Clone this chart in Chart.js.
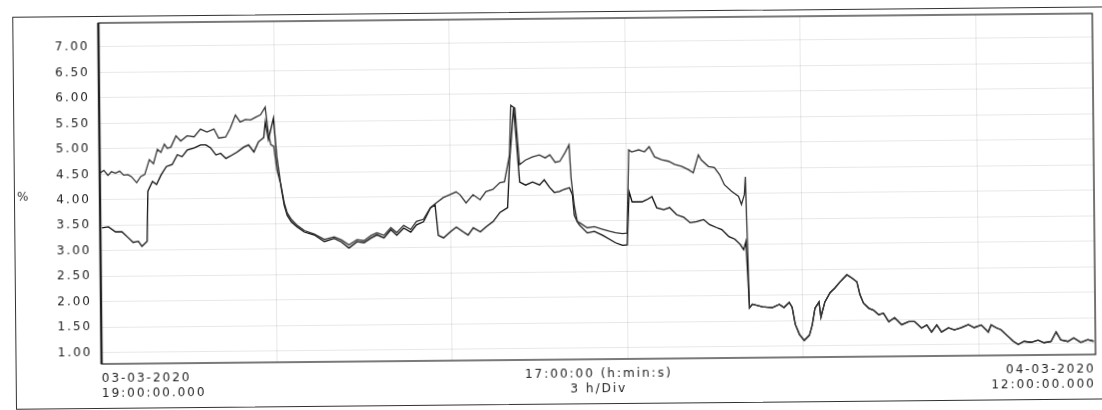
<!DOCTYPE html>
<html>
<head>
<meta charset="utf-8">
<script src="https://cdn.jsdelivr.net/npm/chart.js@4.4.1/dist/chart.umd.min.js"></script>
<style>
html, body { margin: 0; padding: 0; background: #fff; overflow: hidden; }
#sheet { position: absolute; left: 0; top: 0; width: 1102px; height: 410px; transform: rotate(-0.55deg); transform-origin: 100px 200px; }
#frame { position: absolute; left: 14px; top: 16px; width: 1110px; height: 391px; border: 1.5px solid #333; }
canvas { position: absolute; left: 0; top: 0; }
</style>
</head>
<body>
<div id="sheet">
  <div id="frame"></div>
  <canvas id="myChart" width="1102" height="410"></canvas>
</div>
<script>
// hours since 03-03-2020 19:00, values in %
var timesA = [0, 0.07, 0.14, 0.2, 0.27, 0.34, 0.41, 0.48, 0.54, 0.63, 0.70, 0.77, 0.85, 0.92, 0.99, 1.05, 1.11, 1.16, 1.22, 1.31, 1.39, 1.50, 1.62, 1.73, 1.84, 1.96,
  2.04, 2.16, 2.24, 2.33, 2.41, 2.50, 2.59, 2.67, 2.76, 2.84, 2.89, 2.93, 2.98,
  3.03, 3.10, 3.15, 3.20, 3.27, 3.37, 3.49, 3.66, 3.83,
  4.00, 4.12, 4.25, 4.39, 4.51, 4.63, 4.73, 4.85, 4.97,
  5.07, 5.19, 5.31, 5.41, 5.53, 5.65, 5.73, 5.87, 5.99,
  6.09, 6.16, 6.26, 6.38, 6.50, 6.60, 6.72, 6.84, 6.92,
  7.01, 7.04, 7.11, 7.18, 7.28, 7.40, 7.52, 7.62, 7.70, 7.79, 7.87, 7.96,
  8.03, 8.06, 8.11, 8.16, 8.20, 8.33, 8.45, 8.59, 8.71, 8.81, 8.93,
  9.01, 9.05, 9.10, 9.22, 9.32, 9.40, 9.49, 9.61, 9.73, 9.83, 9.95,
  10.07, 10.15, 10.24, 10.29, 10.41, 10.51, 10.60, 10.68, 10.80, 10.92, 10.97,
  11.02, 11.04];
var valsA = [4.52, 4.58, 4.48, 4.55, 4.52, 4.56, 4.48, 4.49, 4.45, 4.33, 4.45, 4.49, 4.78, 4.70, 4.98, 4.92, 5.08, 5.00, 5.02, 5.24, 5.14, 5.24, 5.22, 5.37, 5.31, 5.37,
  5.19, 5.21, 5.38, 5.64, 5.50, 5.55, 5.54, 5.59, 5.64, 5.79, 5.27, 5.05, 5.02,
  4.56, 4.24, 3.91, 3.71, 3.58, 3.46, 3.36, 3.29, 3.18,
  3.23, 3.17, 3.07, 3.17, 3.15, 3.25, 3.30, 3.25, 3.40,
  3.30, 3.44, 3.36, 3.52, 3.56, 3.79, 3.86, 3.98, 4.04,
  4.09, 4.03, 3.87, 4.03, 3.93, 4.09, 4.13, 4.26, 4.28,
  4.80, 5.78, 5.72, 4.61, 4.70, 4.76, 4.80, 4.74, 4.80, 4.65, 4.67, 4.84,
  4.99, 4.34, 3.81, 3.48, 3.46, 3.36, 3.38, 3.33, 3.29, 3.26, 3.24,
  3.25, 4.88, 4.84, 4.88, 4.84, 4.94, 4.74, 4.68, 4.65, 4.59, 4.55,
  4.48, 4.42, 4.77, 4.67, 4.54, 4.52, 4.38, 4.18, 4.05, 3.95, 3.79,
  3.98, 4.33];

var timesB = [0.03, 0.14, 0.26, 0.37, 0.48, 0.56, 0.65, 0.71, 0.80, 0.82, 0.90, 0.97, 1.05, 1.14, 1.24, 1.33, 1.41, 1.50, 1.62, 1.73, 1.82, 1.90, 1.99,
  2.07, 2.16, 2.26, 2.35, 2.47, 2.55, 2.64, 2.72, 2.81, 2.84, 2.89, 2.98,
  3.03, 3.10, 3.15, 3.20, 3.27, 3.37, 3.49, 3.66, 3.83,
  4.00, 4.12, 4.25, 4.39, 4.51, 4.63, 4.73, 4.85, 4.97,
  5.07, 5.19, 5.31, 5.41, 5.53, 5.65, 5.73, 5.78, 5.87, 5.99,
  6.09, 6.21, 6.29, 6.38, 6.50, 6.60, 6.72, 6.84, 6.97,
  7.01, 7.09, 7.18, 7.28, 7.40, 7.52, 7.60, 7.69, 7.77, 7.86, 7.94,
  8.03, 8.08, 8.11, 8.16, 8.20, 8.33, 8.45, 8.59, 8.71, 8.81, 8.93,
  9.01, 9.05, 9.10, 9.15, 9.27, 9.35, 9.44, 9.52, 9.64, 9.74, 9.86, 9.98,
  10.09, 10.20, 10.32, 10.42, 10.54, 10.63, 10.75, 10.85, 10.94,
  11.00, 11.04];
var valsB = [3.45, 3.47, 3.37, 3.37, 3.25, 3.16, 3.18, 3.08, 3.18, 4.16, 4.35, 4.29, 4.48, 4.64, 4.68, 4.87, 4.83, 4.96, 5.00, 5.06, 5.06, 5.00, 4.86,
  4.89, 4.79, 4.85, 4.91, 5.01, 5.05, 4.91, 5.11, 5.19, 5.50, 5.15, 5.57,
  4.81, 4.20, 3.86, 3.66, 3.53, 3.43, 3.33, 3.27, 3.14,
  3.20, 3.13, 3.01, 3.13, 3.11, 3.20, 3.26, 3.20, 3.36,
  3.25, 3.39, 3.31, 3.45, 3.51, 3.78, 3.84, 3.24, 3.19, 3.31,
  3.40, 3.30, 3.24, 3.38, 3.30, 3.40, 3.50, 3.68, 3.77,
  4.67, 5.74, 4.27, 4.21, 4.27, 4.21, 4.31, 4.16, 4.06, 4.08, 4.12,
  4.15, 4.01, 3.61, 3.48, 3.41, 3.26, 3.29, 3.21, 3.13, 3.06, 3.01,
  3.02, 4.06, 3.86, 3.86, 3.86, 3.90, 3.96, 3.74, 3.70, 3.74, 3.60, 3.55,
  3.44, 3.46, 3.50, 3.40, 3.34, 3.30, 3.16, 3.11, 3.01,
  2.90, 3.06];

// after 11 h both traces run together
var tailTimes = [11.09, 11.14, 11.31, 11.48, 11.60, 11.68, 11.77, 11.82, 11.87, 11.94,
  12.02, 12.11, 12.16, 12.21, 12.28, 12.31, 12.38, 12.47, 12.55, 12.64, 12.76, 12.84, 12.93, 12.98,
  13.04, 13.13, 13.21, 13.30, 13.38, 13.47, 13.57, 13.69, 13.81, 13.91,
  14.03, 14.12, 14.20, 14.29, 14.37, 14.49, 14.59, 14.71, 14.83, 14.93,
  15.05, 15.17, 15.22, 15.31, 15.39, 15.48, 15.60, 15.68, 15.78, 15.90,
  16.02, 16.12, 16.24, 16.33, 16.41, 16.53, 16.63, 16.75, 16.87, 16.97];
var tailVals = [1.76, 1.83, 1.78, 1.76, 1.82, 1.76, 1.86, 1.76, 1.43, 1.23,
  1.11, 1.21, 1.41, 1.74, 1.86, 1.56, 1.86, 2.04, 2.13, 2.25, 2.39, 2.33, 2.25, 2.00,
  1.83, 1.73, 1.69, 1.60, 1.63, 1.46, 1.54, 1.40, 1.46, 1.46,
  1.33, 1.39, 1.25, 1.39, 1.25, 1.33, 1.29, 1.33, 1.39, 1.33,
  1.38, 1.24, 1.38, 1.32, 1.28, 1.18, 1.05, 0.99, 1.05, 1.03,
  1.07, 1.02, 1.04, 1.23, 1.07, 1.04, 1.11, 1.02, 1.07, 1.04];

var yTicks = [1, 1.5, 2, 2.5, 3, 3.5, 4, 4.5, 5, 5.5, 6, 6.5, 7];
var xGridTicks = [0, 3, 6, 9, 12, 15, 17];
var xLabelTicks = [0, 8.5, 17];
var xLabels = [['03-03-2020', '19:00:00.000'], ['17:00:00 (h:min:s)', '3 h/Div'], ['04-03-2020', '12:00:00.000']];

function toPoints(ts, vs) {
    return ts.map(function (t, i) { return { x: t, y: vs[i] }; });
}

var dataA = toPoints(timesA, valsA).concat(toPoints(tailTimes, tailVals));
var dataB = toPoints(timesB, valsB).concat(toPoints(tailTimes, tailVals));

var paperBits = {
    id: 'paperBits',
    beforeUpdate: function (chart) {
        chart.ctx.letterSpacing = '2px';
    },
    afterDraw: function (chart) {
        var a = chart.chartArea, ctx = chart.ctx;
        ctx.save();
        ctx.strokeStyle = '#222';
        ctx.lineWidth = 1.2;
        ctx.strokeRect(a.left, a.top, a.right - a.left, a.bottom - a.top);
        ctx.lineWidth = 2.4;
        ctx.beginPath();
        ctx.moveTo(a.left, a.top);
        ctx.lineTo(a.left, a.bottom);
        ctx.stroke();
        ctx.fillStyle = '#333';
        ctx.font = '12px "DejaVu Sans"';
        ctx.textBaseline = 'middle';
        ctx.fillText('%', 17, 197);
        ctx.restore();
    }
};

var labelFont = { family: '"DejaVu Sans", sans-serif', size: 12, lineHeight: 1.2 };

var ctx = document.getElementById('myChart').getContext('2d');
var myChart = new Chart(ctx, {
    type: 'line',
    data: {
        datasets: [{
            label: 'A',
            data: dataA,
            borderColor: '#333',
            borderWidth: 1.3,
            pointRadius: 0,
            tension: 0
        }, {
            label: 'B',
            data: dataB,
            borderColor: '#111',
            borderWidth: 1.3,
            pointRadius: 0,
            tension: 0
        }]
    },
    options: {
        responsive: false,
        animation: false,
        events: [],
        layout: { padding: { top: 23, right: 3, left: 0, bottom: 0 } },
        plugins: { legend: { display: false }, tooltip: { enabled: false } },
        scales: {
            x: {
                type: 'linear',
                min: 0,
                max: 17,
                afterBuildTicks: function (s) { s.ticks = xGridTicks.map(function (v) { return { value: v }; }); },
                afterFit: function (s) { s.height = 0; },
                grid: { color: 'rgba(0,0,0,0.09)', drawTicks: false },
                border: { display: false },
                ticks: { display: false }
            },
            x2: {
                type: 'linear',
                position: 'bottom',
                min: 0,
                max: 17,
                afterBuildTicks: function (s) { s.ticks = xLabelTicks.map(function (v) { return { value: v }; }); },
                afterFit: function (s) { s.height = 46; },
                grid: { display: false, drawTicks: false },
                border: { display: false },
                ticks: {
                    align: 'inner',
                    maxRotation: 0,
                    padding: 8,
                    color: '#222',
                    font: labelFont,
                    callback: function (v, i) { return xLabels[i]; }
                }
            },
            y: {
                min: 0.78,
                max: 7.47,
                afterBuildTicks: function (s) { s.ticks = yTicks.map(function (v) { return { value: v }; }); },
                afterFit: function (s) { s.width = 100; },
                grid: { color: 'rgba(0,0,0,0.09)', drawTicks: false },
                border: { display: false },
                ticks: {
                    padding: 9,
                    color: '#222',
                    font: labelFont,
                    callback: function (v) { return v.toFixed(2); }
                }
            }
        }
    },
    plugins: [paperBits]
});
</script>
</body>
</html>
